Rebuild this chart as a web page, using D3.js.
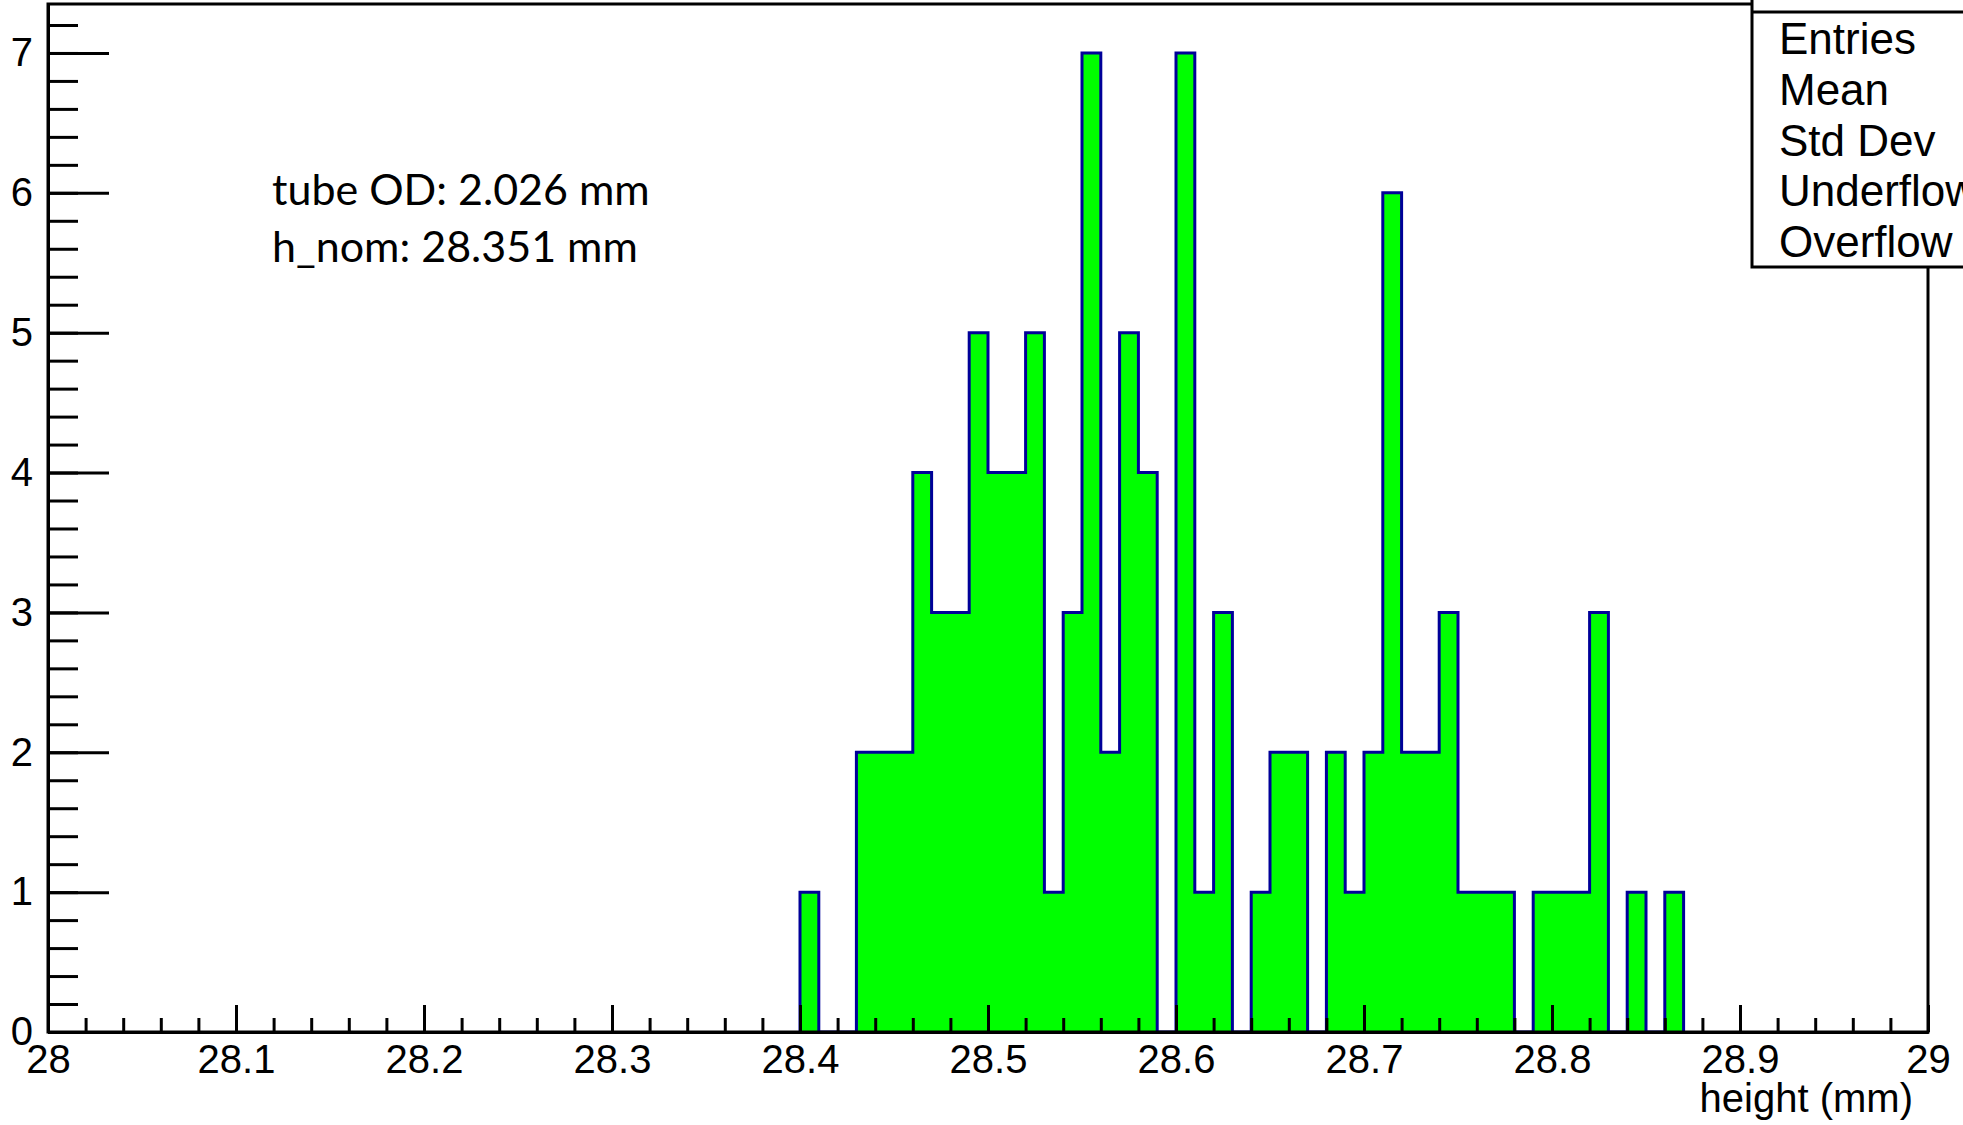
<!DOCTYPE html>
<html>
<head>
<meta charset="utf-8">
<script src="https://d3js.org/d3.v7.min.js"></script>
<style>
  body { margin: 0; background: #fff; }
  .ax text { font-family: "Liberation Sans", Arial, sans-serif; font-size: 40px; fill: #000; }
  .ax path, .ax line { stroke: #000; stroke-width: 3; }
</style>
</head>
<body>
<svg id="chart" width="1963" height="1125"></svg>
<script>
// histogram: bins of 0.01 mm starting at 28.40 (all other bins empty)
var binStart = 28.40;
var binWidth = 0.01;
var counts = [1, 0, 0, 2, 2, 2, 4, 3, 3, 5,
              4, 4, 5, 1, 3, 7, 2, 5, 4, 0,
              7, 1, 3, 0, 1, 2, 2, 0, 2, 1,
              2, 6, 2, 2, 3, 1, 1, 1, 0, 1,
              1, 1, 3, 0, 1, 0, 1];

var xTicks = [28, 28.1, 28.2, 28.3, 28.4, 28.5, 28.6, 28.7, 28.8, 28.9, 29];
var yTicks = [0, 1, 2, 3, 4, 5, 6, 7];
var statLabels = ["Entries", "Mean", "Std Dev", "Underflow", "Overflow"];
var noteLines = ["tube OD: 2.026 mm", "h_nom: 28.351 mm"];
var xTitle = "height (mm)";

var svg = d3.select("#chart");

var x = d3.scaleLinear().domain([28, 29]).range([48, 1928]);
var y = d3.scaleLinear().domain([0, 7.35]).range([1032, 4]);

var bins = counts.map(function(c, i) {
    return { x0: binStart + i * binWidth, x1: binStart + (i + 1) * binWidth, n: c };
});

// step points of the histogram
var pts = [[bins[0].x0, 0]];
bins.forEach(function(d) { pts.push([d.x0, d.n]); pts.push([d.x1, d.n]); });
pts.push([bins[bins.length - 1].x1, 0]);

// fill, one area so no seams between bins
svg.append("path")
    .attr("d", d3.area().x(function(p) { return x(p[0]); }).y0(y(0)).y1(function(p) { return y(p[1]); })(pts))
    .attr("fill", "#00ff00");

// outline
svg.append("path")
    .attr("d", d3.line().x(function(p) { return x(p[0]); }).y(function(p) { return y(p[1]); })(pts))
    .attr("fill", "none")
    .attr("stroke", "#000099")
    .attr("stroke-width", 3);

// x axis: minor + major ticks pointing up
svg.append("g").attr("class", "ax")
    .attr("transform", "translate(0," + y(0) + ")")
    .call(d3.axisBottom(x).tickValues(d3.range(28, 29.001, 0.02)).tickSizeInner(-14).tickSizeOuter(0).tickFormat(""));
svg.append("g").attr("class", "ax")
    .attr("transform", "translate(0," + y(0) + ")")
    .call(d3.axisBottom(x).tickValues(xTicks).tickSizeInner(-27).tickSizeOuter(0).tickPadding(13).tickFormat(d3.format("")));

// y axis: ticks pointing right
svg.append("g").attr("class", "ax")
    .attr("transform", "translate(" + x(28) + ",0)")
    .call(d3.axisLeft(y).tickValues(d3.range(0, 7.35, 0.2)).tickSizeInner(-30).tickSizeOuter(0).tickFormat(""));
svg.append("g").attr("class", "ax")
    .attr("transform", "translate(" + x(28) + ",0)")
    .call(d3.axisLeft(y).tickValues(yTicks).tickSizeInner(-61).tickSizeOuter(0).tickPadding(15).tickFormat(d3.format("d")));

// frame
svg.append("rect")
    .attr("x", x(28)).attr("y", y(7.35))
    .attr("width", x(29) - x(28)).attr("height", y(0) - y(7.35))
    .attr("fill", "none").attr("stroke", "#000").attr("stroke-width", 3);

// x title
svg.append("text")
    .attr("x", 1913).attr("y", 1112)
    .attr("text-anchor", "end")
    .style("font-family", "'Liberation Sans', Arial, sans-serif")
    .style("font-size", "40px")
    .text(xTitle);

// annotation
svg.append("g").selectAll("text")
    .data(noteLines)
    .enter().append("text")
    .attr("x", 272)
    .attr("y", function(d, i) { return 205 + i * 57; })
    .style("font-family", "Lato, sans-serif")
    .style("font-size", "43px")
    .text(function(d) { return d; });

// stats box (cut by the page edge)
var box = svg.append("g");
box.append("rect")
    .attr("x", 1752).attr("y", -60)
    .attr("width", 400).attr("height", 327)
    .attr("fill", "#fff").attr("stroke", "#000").attr("stroke-width", 3);
box.append("line")
    .attr("x1", 1752).attr("x2", 1963).attr("y1", 12).attr("y2", 12)
    .attr("stroke", "#000").attr("stroke-width", 3);
box.selectAll("text.st")
    .data(statLabels)
    .enter().append("text")
    .attr("class", "st")
    .attr("x", 1779)
    .attr("y", function(d, i) { return 54 + i * 50.8; })
    .style("font-family", "'Liberation Sans', Arial, sans-serif")
    .style("font-size", "44px")
    .text(function(d) { return d; });
</script>
</body>
</html>
